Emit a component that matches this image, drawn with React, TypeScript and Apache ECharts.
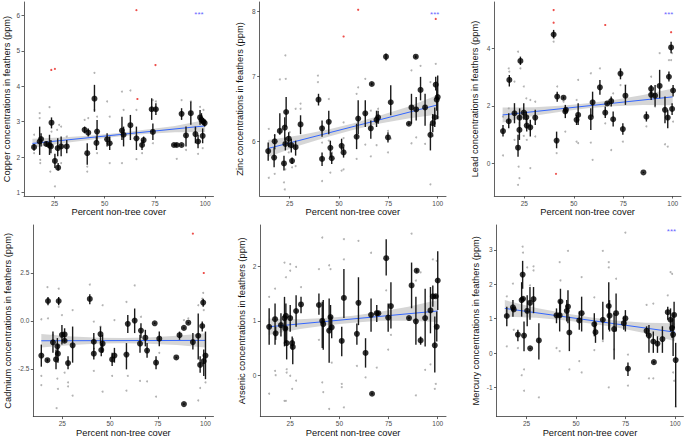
import React, { useEffect, useRef } from 'react';
import * as echarts from 'echarts';

const FONT = 'Liberation Sans, Arial, Helvetica, sans-serif';
const xTitle = 'Percent non-tree cover';
const xTicks = [25, 50, 75, 100];
const fitX = [14, 100];
const bandX = [14, 30, 45, 57, 70, 85, 100];

// ---------- Copper ----------
const copperMeans = [
  [14.8, 2.28, 2.18, 2.37], [17.6, 2.44, 2.06, 2.86], [18.3, 2.51, 2.30, 2.67], [20.9, 2.37, 2.30, 2.44],
  [22.5, 2.33, 2.06, 2.63], [23.2, 2.30, 2.11, 2.48], [23.5, 2.97, 2.81, 3.12], [25.2, 1.89, 1.69, 2.09],
  [26.6, 2.25, 2.02, 2.53], [26.8, 1.70, 1.62, 1.83], [28.3, 2.30, 2.02, 2.58], [31.1, 2.30, 2.11, 2.48],
  [40.0, 2.77, 2.67, 2.86], [41.8, 2.69, 2.58, 2.81], [41.3, 2.11, 1.78, 2.39], [44.9, 3.65, 3.28, 4.04],
  [45.9, 2.40, 2.20, 2.58], [46.2, 2.72, 2.44, 3.05], [51.2, 2.50, 2.30, 2.67], [52.5, 2.39, 2.20, 2.58],
  [58.6, 2.75, 2.48, 3.14], [59.4, 2.63, 2.30, 2.86], [62.8, 2.90, 2.48, 3.19], [65.8, 2.53, 2.20, 2.86],
  [68.6, 2.34, 2.20, 2.48], [69.4, 2.48, 2.39, 2.58], [73.4, 3.35, 3.05, 3.66], [74.0, 2.71, 2.48, 2.95],
  [75.5, 3.35, 3.19, 3.52], [84.5, 2.34, 2.32, 2.36], [85.9, 2.34, 2.30, 2.38], [88.3, 3.22, 3.05, 3.38],
  [88.3, 2.34, 2.32, 2.36], [90.5, 2.61, 2.30, 2.86], [92.9, 3.24, 2.91, 3.57], [95.2, 2.65, 2.39, 2.86],
  [96.5, 2.44, 2.25, 2.63], [97.5, 3.12, 2.91, 3.33], [98.2, 3.05, 2.95, 3.24], [98.8, 2.60, 2.39, 2.81],
  [99.2, 3.00, 2.91, 3.10], [99.8, 2.96, 2.86, 3.05],
];
const copperRaw = [
  [14.8, 2.63], [14.8, 2.11], [17.6, 3.24], [17.6, 3.10], [17.9, 1.92], [17.9, 1.83], [22.5, 3.41], [22.9, 1.59],
  [23.2, 2.91], [23.5, 2.72], [25.2, 1.17], [26.3, 2.77], [27.3, 2.91], [28.3, 2.86], [28.3, 1.83], [31.1, 2.58],
  [40.0, 3.05], [41.3, 1.59], [41.3, 1.73], [41.8, 3.10], [44.9, 4.38], [44.9, 3.33], [46.2, 3.14], [46.2, 2.11],
  [51.2, 3.57], [52.5, 3.14], [52.5, 1.83], [58.6, 3.85], [58.6, 1.83], [59.4, 3.33], [62.8, 3.88], [65.8, 1.94],
  [65.8, 3.33], [68.6, 2.11], [74.0, 3.61], [74.0, 2.39], [75.5, 3.57], [85.9, 1.95], [88.3, 3.61], [90.5, 2.20],
  [92.9, 3.57], [95.2, 2.81], [96.5, 2.09], [97.5, 3.42], [98.8, 2.25], [99.2, 3.33],
];
const copperRed = [[23.4, 4.46], [25.2, 4.49], [65.8, 6.15], [75.3, 4.60], [66.3, 3.64]];
const copperFit = [2.385, 2.88];
const copperBandLo = [2.26, 2.40, 2.505, 2.58, 2.65, 2.70, 2.71];
const copperBandHi = [2.52, 2.56, 2.615, 2.68, 2.77, 2.88, 3.05];
const copperYTicks = [1, 2, 3, 4, 5, 6];
const copperStar = [97, 6.04];

// ---------- Zinc ----------
const zincMeans = [
  [14.1, 5.85, 5.70, 5.98], [17.1, 5.75, 5.60, 5.91], [17.4, 6.00, 5.88, 6.11], [20.0, 6.16, 6.10, 6.43],
  [22.1, 5.66, 5.55, 5.78], [22.5, 6.21, 6.01, 6.37], [22.8, 5.96, 5.86, 6.06], [23.2, 6.45, 6.22, 6.68],
  [24.5, 6.04, 5.91, 6.14], [25.8, 5.94, 5.83, 6.04], [26.2, 5.70, 5.65, 5.75], [28.0, 5.91, 5.78, 6.01],
  [30.5, 6.26, 6.11, 6.40], [39.6, 6.64, 6.55, 6.73], [41.4, 6.20, 6.07, 6.32], [41.4, 5.73, 5.62, 5.83],
  [44.8, 6.30, 6.11, 6.47], [45.6, 5.90, 5.75, 6.01], [46.3, 5.74, 5.65, 5.83], [51.3, 5.93, 5.86, 6.04],
  [52.3, 5.83, 5.75, 5.91], [58.9, 6.07, 5.88, 6.27], [59.7, 6.35, 6.11, 6.63], [63.3, 6.43, 6.22, 6.63],
  [66.1, 6.20, 6.04, 6.32], [66.6, 6.88, 6.86, 6.90], [69.0, 6.33, 6.22, 6.47], [69.8, 6.37, 6.27, 6.47],
  [73.8, 7.30, 7.24, 7.35], [74.8, 6.06, 5.98, 6.14], [76.2, 6.60, 6.40, 6.86], [85.4, 6.27, 6.25, 6.29],
  [86.7, 6.52, 6.27, 6.73], [88.9, 7.30, 7.28, 7.32], [89.1, 6.49, 6.32, 6.68], [91.3, 6.79, 6.63, 6.99],
  [93.6, 6.52, 6.24, 6.73], [96.3, 6.10, 5.86, 6.27], [97.5, 6.28, 6.14, 6.42], [98.5, 6.37, 6.22, 6.52],
  [99.0, 6.87, 6.78, 6.99], [99.5, 6.64, 6.47, 6.83], [100.0, 6.68, 6.34, 7.01],
];
const zincRaw = [
  [14.4, 6.19], [14.4, 5.44], [17.4, 6.09], [17.4, 5.50], [17.4, 5.88], [20.0, 6.95], [22.1, 5.37], [22.5, 5.26],
  [22.8, 7.32], [23.0, 6.96], [22.8, 5.57], [24.5, 5.83], [25.0, 6.14], [26.2, 5.60], [28.0, 6.50], [28.0, 5.62],
  [30.5, 6.58], [30.5, 6.50], [39.3, 7.01], [39.3, 6.91], [41.4, 5.98], [41.4, 5.39], [44.8, 6.65], [44.8, 6.01],
  [45.6, 5.52], [46.3, 5.83], [51.3, 5.55], [52.3, 5.57], [52.3, 6.29], [52.3, 6.05], [58.9, 6.73], [58.9, 5.73],
  [59.7, 6.83], [63.3, 6.96], [63.3, 5.95], [66.1, 5.77], [66.1, 6.47], [69.0, 5.94], [69.8, 6.50], [74.8, 5.83],
  [74.8, 6.16], [76.2, 6.04], [86.7, 7.09], [86.7, 5.97], [89.1, 6.06], [91.3, 7.16], [93.6, 5.96], [96.3, 5.34],
  [96.3, 6.91], [97.5, 6.08], [99.0, 7.19], [99.5, 6.91], [100.3, 6.37],
];
const zincRed = [[52.3, 7.61], [59.7, 8.02], [99.0, 7.88]];
const zincFit = [5.89, 6.56];
const zincBandLo = [5.76, 5.935, 6.075, 6.175, 6.27, 6.35, 6.41];
const zincBandHi = [6.02, 6.095, 6.185, 6.275, 6.39, 6.53, 6.71];
const zincYTicks = [6, 7, 8];
const zincStar = [98.5, 7.95];

// ---------- Lead ----------
const leadMeans = [
  [14.2, 1.12, 0.93, 1.33], [17.1, 1.46, 1.22, 1.74], [17.4, 2.90, 2.67, 3.07], [20.0, 1.74, 1.39, 2.09],
  [21.8, 0.54, 0.23, 0.99], [22.5, 1.16, 0.81, 1.45], [22.6, 1.59, 1.22, 1.91], [23.0, 3.56, 3.42, 3.71],
  [24.7, 1.76, 1.51, 2.09], [26.0, 1.60, 1.39, 1.80], [26.2, 1.31, 1.10, 1.57], [28.0, 1.25, 0.93, 1.51],
  [30.5, 1.59, 1.33, 1.86], [39.8, 4.48, 4.35, 4.64], [41.3, 0.79, 0.52, 1.10], [41.6, 2.32, 2.14, 2.49],
  [44.8, 2.28, 2.24, 2.32], [45.7, 1.80, 1.57, 2.03], [46.0, 1.86, 1.80, 1.91], [51.4, 1.51, 1.33, 1.68],
  [52.2, 1.68, 1.33, 2.09], [58.6, 1.60, 1.16, 1.91], [59.5, 2.12, 1.62, 2.49], [63.2, 2.64, 2.38, 2.90],
  [65.9, 1.76, 1.57, 1.97], [66.9, 2.08, 2.04, 2.12], [68.9, 2.16, 1.97, 2.32], [69.9, 1.53, 1.28, 1.80],
  [73.6, 3.12, 2.92, 3.30], [74.8, 1.19, 0.99, 1.39], [76.1, 2.35, 2.03, 2.72], [85.2, -0.32, -0.34, -0.30],
  [86.7, 1.62, 1.45, 1.80], [89.1, 2.59, 2.43, 2.72], [89.1, 2.38, 2.20, 2.55], [91.1, 2.35, 1.97, 2.72],
  [93.4, 2.69, 2.26, 3.25], [96.1, 1.86, 1.39, 2.32], [97.5, 1.59, 1.22, 1.86], [98.1, 3.01, 2.84, 3.19],
  [99.2, 4.03, 3.83, 4.23], [99.7, 1.89, 1.68, 2.09], [100.2, 2.53, 2.32, 2.72],
];
const leadRaw = [
  [14.2, 0.27], [14.2, 1.62], [17.1, 3.30], [17.4, 3.19], [17.1, 1.91], [20.0, 2.84], [20.0, 0.81], [21.8, 3.88],
  [21.8, -0.75], [22.1, -0.12], [22.5, -0.52], [23.0, 3.30], [24.7, 2.67], [24.7, 0.95], [26.0, 2.26], [26.2, 0.81],
  [28.0, -0.17], [28.0, 2.20], [30.5, 2.14], [30.5, 0.93], [39.8, 4.35], [39.8, 4.23], [41.3, 0.35], [41.6, 2.67],
  [44.8, 2.14], [45.7, 1.10], [51.4, 2.20], [51.4, 0.75], [52.2, 0.70], [52.2, 2.90], [58.6, 3.13], [58.6, 0.72],
  [59.5, 0.12], [63.2, 3.30], [65.9, 1.39], [68.9, 0.46], [69.9, 2.43], [73.6, 2.72], [74.8, 0.75], [76.1, 2.72],
  [86.7, 1.28], [89.1, 3.01], [91.1, 1.97], [93.4, 3.83], [96.1, 0.66], [97.5, 0.58], [98.1, 3.59], [99.2, 3.59],
  [99.7, 3.83], [100.2, 1.45],
];
const leadRed = [[39.8, 5.33], [39.8, 4.89], [65.9, 4.81], [41.0, -0.37], [99.2, 4.56]];
const leadFit = [1.68, 2.31];
const leadBandLo = [1.42, 1.65, 1.81, 1.91, 1.98, 2.03, 2.02];
const leadBandHi = [1.94, 1.95, 2.01, 2.09, 2.20, 2.37, 2.60];
const leadYTicks = [0, 2, 4];
const leadStar = [98, 5.16];

// ---------- Cadmium ----------
const cadmiumMeans = [
  [14.0, -1.80, -2.38, -1.23], [17.2, -2.04, -2.11, -1.97], [17.5, 1.04, 0.82, 1.25], [20.1, -1.11, -1.66, -0.55],
  [21.7, -2.00, -2.52, -1.49], [22.4, -1.32, -1.75, -0.89], [22.7, -1.70, -2.17, -1.23], [23.1, 1.04, 0.82, 1.25],
  [24.8, -0.72, -1.23, -0.21], [26.2, -0.70, -1.06, -0.38], [26.2, -1.03, -1.11, -0.95], [28.0, -2.19, -2.52, -1.83],
  [30.4, -1.27, -2.17, -0.29], [39.4, 1.15, 0.87, 1.39], [41.5, -1.70, -2.00, -1.40], [41.5, -1.08, -1.49, -0.63],
  [45.0, -0.68, -1.15, -0.29], [45.4, -1.51, -1.83, -1.15], [46.1, -1.18, -1.66, -0.72], [51.1, -2.00, -2.35, -1.66],
  [52.3, -1.80, -2.17, -1.40], [58.6, -1.75, -2.52, -1.15], [59.3, -0.15, -0.63, 0.31], [62.9, 0.02, -0.63, 0.65],
  [65.7, -1.18, -1.66, -0.72], [66.2, -0.50, -0.89, -0.12], [68.5, -0.87, -1.32, -0.46], [69.4, -1.54, -1.92, -1.15],
  [73.4, -0.12, -0.16, -0.08], [74.1, -2.17, -2.52, -1.83], [75.8, -0.92, -1.32, -0.55], [84.7, -1.90, -1.94, -1.86],
  [86.4, -0.74, -0.98, -0.55], [88.7, -4.33, -4.37, -4.29], [88.7, -0.36, -0.40, -0.32], [91.0, -0.09, -0.13, -0.05],
  [93.4, -1.10, -1.49, -0.63], [96.2, -0.77, -2.00, 0.39], [97.2, -2.29, -2.69, -1.83], [98.3, -0.26, -0.55, -0.03],
  [98.8, 0.96, 0.74, 1.16], [99.1, -2.09, -2.86, -1.49], [100.0, -1.80, -3.03, -0.55],
];
const cadmiumRaw = [
  [14.0, 0.09], [14.0, -2.86], [14.0, -3.34], [17.2, 1.76], [17.5, 0.14], [20.1, -0.72], [21.7, -1.75], [22.0, -4.54],
  [22.4, -3.00], [22.7, -3.54], [23.1, 1.68], [23.1, 0.74], [24.8, 0.31], [26.2, -2.69], [28.0, -3.20], [28.0, -3.41],
  [30.4, 0.57], [30.4, -3.89], [39.4, 1.90], [41.5, -0.03], [41.5, -2.60], [45.0, -0.29], [46.1, -3.68], [46.1, 0.82],
  [51.1, -2.86], [52.3, 0.05], [58.6, 0.99], [58.6, -3.63], [59.3, -2.86], [62.9, 1.85], [65.7, -3.12], [66.2, 0.22],
  [69.4, -3.15], [74.1, -3.94], [75.8, -1.66], [88.7, 0.05], [91.0, 0.14], [96.2, -4.14], [96.2, 0.82], [97.2, -3.49],
  [98.3, 1.16], [98.8, 1.46], [99.1, 0.57], [100.0, -3.20],
];
const cadmiumRed = [[93.4, 4.55], [99.1, 2.50]];
const cadmiumFit = [-1.03, -1.01];
const cadmiumBandLo = [-1.38, -1.25, -1.17, -1.16, -1.18, -1.25, -1.38];
const cadmiumBandHi = [-0.68, -0.81, -0.87, -0.88, -0.86, -0.77, -0.64];
const cadmiumYTicks = [-2.5, 0, 2.5];

// ---------- Arsenic ----------
const arsenicMeans = [
  [14.3, 0.89, 0.56, 1.23], [17.3, 1.03, 0.56, 1.32], [17.6, 0.77, 0.65, 0.89], [20.3, 0.92, 0.71, 1.14],
  [22.1, 1.05, 0.53, 1.44], [22.5, 0.86, 0.59, 1.08], [22.8, 1.09, 0.83, 1.32], [23.2, 0.59, 0.29, 0.89],
  [25.0, 1.05, 0.80, 1.29], [26.0, 0.59, 0.47, 0.71], [26.3, 0.52, 0.20, 0.68], [28.0, 1.18, 0.89, 1.47],
  [30.5, 1.30, 1.14, 1.44], [39.6, 1.29, 1.11, 1.50], [41.3, 1.00, 0.50, 1.35], [41.8, 0.94, 0.47, 1.38],
  [44.8, 0.82, 0.23, 1.41], [45.5, 1.07, 0.83, 1.29], [46.1, 0.88, 0.68, 1.08], [51.2, 0.63, 0.35, 0.89],
  [52.3, 1.42, 1.05, 1.95], [58.9, 0.76, 0.56, 0.95], [59.7, 1.33, 0.92, 1.80], [63.3, 0.41, 0.14, 0.68],
  [66.1, 1.11, 0.80, 1.41], [66.6, -0.34, -0.36, -0.32], [69.0, 1.14, 0.98, 1.29], [69.8, 1.14, 1.11, 1.17],
  [73.8, 2.15, 1.83, 2.50], [74.8, 1.06, 0.80, 1.32], [76.2, 1.27, 0.86, 1.71], [85.4, 1.05, 1.03, 1.07],
  [86.7, 1.65, 1.23, 2.07], [88.9, 0.99, 0.56, 1.44], [89.3, 1.92, 1.89, 1.95], [91.3, 0.64, 0.56, 0.71],
  [93.6, 1.05, 0.53, 1.59], [96.3, 1.19, 0.77, 1.62], [97.5, 1.45, 1.26, 1.65], [98.5, 0.55, 0.05, 1.08],
  [99.0, 1.45, 1.42, 1.48], [99.5, 0.89, 0.62, 1.17], [100.0, 1.74, 1.20, 2.28],
];
const arsenicRaw = [
  [14.3, 1.44], [14.3, -0.34], [17.3, 0.08], [17.6, 0.00], [17.3, 1.59], [22.1, 2.07], [22.1, -0.47], [22.8, -0.47],
  [22.8, 1.80], [23.2, 0.11], [23.2, 0.05], [25.0, 2.04], [25.0, 1.92], [25.0, -0.01], [26.0, -0.25], [28.0, -0.10],
  [28.0, 1.99], [30.5, 1.62], [39.6, 1.95], [39.6, 0.65], [41.3, 2.53], [41.3, -0.13], [41.8, -0.31], [44.8, -0.62],
  [44.8, 2.02], [45.5, 1.95], [46.1, 0.23], [51.2, -0.16], [51.2, -0.22], [52.3, 2.50], [52.3, -0.59], [52.3, 2.13],
  [58.9, 0.17], [59.7, 2.47], [63.3, -0.04], [66.1, 2.25], [69.0, 0.14], [73.8, 1.56], [74.8, 0.47], [76.2, 0.74],
  [86.7, 2.60], [88.9, -0.37], [88.9, 1.74], [91.3, 1.89], [93.6, 0.10], [96.3, 0.20], [97.5, 2.13], [98.5, -0.25],
  [99.0, -0.16], [99.5, 2.10],
];
const arsenicFit = [0.89, 1.18];
const arsenicBandLo = [0.74, 0.85, 0.925, 0.965, 1.0, 1.0, 0.98];
const arsenicBandHi = [1.04, 1.03, 1.055, 1.095, 1.16, 1.26, 1.38];
const arsenicYTicks = [0, 1, 2];

// ---------- Mercury ----------
const mercuryMeans = [
  [15.0, 1.08, 0.78, 1.35], [18.1, 1.33, 1.06, 1.54], [18.5, 1.27, 1.24, 1.30], [20.6, 0.54, 0.35, 0.68],
  [22.5, 1.54, 1.06, 2.06], [23.0, 2.28, 1.87, 2.68], [23.2, 1.58, 1.54, 1.62], [23.7, 0.51, 0.06, 0.92],
  [25.3, 1.23, 0.78, 1.68], [26.7, 1.46, 0.97, 1.92], [26.8, 0.14, 0.12, 0.16], [28.5, 1.57, 1.16, 1.92],
  [31.2, 0.37, -0.18, 0.87], [40.1, 1.10, 0.87, 1.30], [41.7, 1.10, 0.63, 1.54], [42.1, 1.50, 1.06, 1.87],
  [45.3, 1.23, 0.92, 1.54], [45.9, 1.35, 0.87, 1.83], [46.6, 0.60, 0.06, 1.06], [51.6, 0.95, 0.68, 1.21],
  [52.8, 1.16, 0.63, 1.64], [59.2, 0.84, 0.49, 1.16], [59.8, 0.61, 0.30, 0.92], [63.5, 0.97, 0.39, 1.49],
  [66.5, 1.37, 0.68, 2.06], [66.9, 1.09, 0.63, 1.54], [69.2, 0.70, -0.18, 1.16], [70.2, 1.16, 0.63, 1.73],
  [74.1, 0.87, 0.68, 1.06], [74.9, 1.01, 0.63, 1.25], [76.2, -0.45, -0.66, -0.27], [85.6, 0.65, 0.49, 0.78],
  [86.8, 0.51, 0.01, 0.82], [89.0, 0.34, 0.01, 0.63], [89.3, -0.26, -0.29, -0.23], [91.1, 0.28, 0.01, 0.49],
  [93.6, 0.41, 0.01, 0.78], [96.3, 1.19, 0.97, 1.35], [97.7, 0.97, 0.63, 1.30], [98.5, 0.73, 0.44, 1.01],
  [99.0, 0.54, -0.08, 1.16], [99.5, 1.11, 0.73, 1.49], [100.3, -0.20, -1.56, 0.30],
];
const mercuryRaw = [
  [15.0, 0.20], [15.0, 1.65], [18.1, 2.02], [18.5, 0.68], [20.6, 0.15], [22.5, -0.64], [23.0, 3.09], [23.2, 2.92],
  [23.7, -0.47], [23.7, -1.09], [25.3, 2.49], [26.7, 1.97], [28.5, 2.52], [28.5, 2.40], [31.2, -1.28], [40.1, 0.15],
  [41.7, 2.64], [41.7, 0.06], [42.1, 2.11], [45.9, 2.97], [46.6, -0.47], [51.6, -0.23], [52.8, 2.21], [52.8, -0.56],
  [59.2, 1.62], [59.2, 0.09], [63.5, 2.97], [63.5, 0.35], [66.5, 2.64], [66.5, 2.49], [66.5, -0.99], [69.2, 0.11],
  [70.2, 2.16], [74.9, 3.50], [76.2, -0.04], [76.2, -0.94], [85.6, 1.40], [86.8, -0.73], [89.0, -0.73], [89.0, 1.44],
  [96.3, 1.68], [97.7, 2.35], [98.5, 2.30], [99.0, -0.56], [99.5, -0.80], [100.3, -1.56],
];
const mercuryFit = [1.30, 0.61];
const mercuryBandLo = [1.06, 1.03, 0.95, 0.865, 0.75, 0.58, 0.35];
const mercuryBandHi = [1.54, 1.31, 1.15, 1.045, 0.95, 0.88, 0.87];
const mercuryYTicks = [-1, 0, 1, 2, 3];
const mercuryStar = [98.2, 3.53];

const panels = [
  { title: 'Copper concentrations in feathers (ppm)', means: copperMeans, raw: copperRaw, red: copperRed, fit: copperFit, lo: copperBandLo, hi: copperBandHi, ticks: copperYTicks, star: copperStar },
  { title: 'Zinc concentrations in feathers (ppm)', means: zincMeans, raw: zincRaw, red: zincRed, fit: zincFit, lo: zincBandLo, hi: zincBandHi, ticks: zincYTicks, star: zincStar },
  { title: 'Lead concentrations in feathers (ppm)', means: leadMeans, raw: leadRaw, red: leadRed, fit: leadFit, lo: leadBandLo, hi: leadBandHi, ticks: leadYTicks, star: leadStar },
  { title: 'Cadmium concentrations in feathers (ppm)', means: cadmiumMeans, raw: cadmiumRaw, red: cadmiumRed, fit: cadmiumFit, lo: cadmiumBandLo, hi: cadmiumBandHi, ticks: cadmiumYTicks, star: null, decimals: 1 },
  { title: 'Arsenic concentrations in feathers (ppm)', means: arsenicMeans, raw: arsenicRaw, red: [], fit: arsenicFit, lo: arsenicBandLo, hi: arsenicBandHi, ticks: arsenicYTicks, star: null },
  { title: 'Mercury concentrations in feathers (ppm)', means: mercuryMeans, raw: mercuryRaw, red: [], fit: mercuryFit, lo: mercuryBandLo, hi: mercuryBandHi, ticks: mercuryYTicks, star: mercuryStar },
];

// layout: [left, top, right, bottom] px, y-range, y-title gap
const layout = [
  { box: [24, 2, 213.5, 196], yMin: 0.9, yMax: 6.38, gap: 12.3 },
  { box: [259.7, 2, 446, 196], yMin: 5.16, yMax: 8.14, gap: 15.3 },
  { box: [494.3, 2, 681, 196], yMin: -1.14, yMax: 5.61, gap: 14.6 },
  { box: [33.3, 225, 213.5, 419.3], yMin: -4.98, yMax: 5.0, gap: 21.3 },
  { box: [260.3, 225, 446, 419.3], yMin: -0.76, yMax: 2.76, gap: 14.3 },
  { box: [496.5, 225, 683.4, 419.3], yMin: -1.84, yMax: 3.72, gap: 16.1 },
];

function buildOption() {
  const grid: any[] = [];
  const xAxis: any[] = [];
  const yAxis: any[] = [];
  const series: any[] = [];
  const axisCol = '#3a3a3a';
  panels.forEach((p, i) => {
    const L = layout[i];
    grid.push({ left: L.box[0], top: L.box[1], width: L.box[2] - L.box[0], height: L.box[3] - L.box[1] });
    xAxis.push({
      type: 'value', gridIndex: i, min: 9.8, max: 104.2,
      name: xTitle, nameLocation: 'middle', nameGap: 10,
      nameTextStyle: { fontSize: 9.3, color: '#111', fontFamily: FONT },
      axisLine: { show: true, onZero: false, lineStyle: { color: axisCol, width: 0.8 } },
      axisTick: { show: true, length: 2.5, customValues: xTicks, lineStyle: { color: axisCol, width: 0.8 } },
      axisLabel: { customValues: xTicks, fontSize: 6.5, color: '#4d4d4d', margin: 3.5, fontFamily: FONT },
      splitLine: { show: false },
    });
    yAxis.push({
      type: 'value', gridIndex: i, min: L.yMin, max: L.yMax,
      name: p.title, nameLocation: 'middle', nameGap: L.gap, nameRotate: 90,
      nameTextStyle: { fontSize: 9.3, color: '#111', fontFamily: FONT },
      axisLine: { show: true, onZero: false, lineStyle: { color: axisCol, width: 0.8 } },
      axisTick: { show: true, length: 2.5, customValues: p.ticks, lineStyle: { color: axisCol, width: 0.8 } },
      axisLabel: {
        customValues: p.ticks, fontSize: 6.5, color: '#4d4d4d', margin: 4, fontFamily: FONT,
        formatter: (v: number) => (p.decimals ? v.toFixed(p.decimals) : String(v)),
      },
      splitLine: { show: false },
    });
    // raw points
    series.push({
      type: 'scatter', xAxisIndex: i, yAxisIndex: i, data: p.raw, symbolSize: 2, silent: true,
      itemStyle: { color: '#9a9a9a', opacity: 0.75 }, z: 1,
    });
    // confidence band
    series.push({
      type: 'custom', xAxisIndex: i, yAxisIndex: i, silent: true, z: 2,
      data: [[bandX[0], p.lo[0]]],
      renderItem: (_params: any, api: any) => {
        const upper = bandX.map((x, j) => api.coord([x, p.hi[j]]));
        const lower = bandX.map((x, j) => api.coord([x, p.lo[j]])).reverse();
        return { type: 'polygon', shape: { points: upper.concat(lower) }, style: { fill: 'rgba(153,153,153,0.4)' } };
      },
    });
    // regression line
    series.push({
      type: 'line', xAxisIndex: i, yAxisIndex: i, data: fitX.map((x, j) => [x, p.fit[j]]),
      symbol: 'none', silent: true, lineStyle: { color: '#3366FF', width: 1 }, z: 3,
    });
    // error bars
    series.push({
      type: 'custom', xAxisIndex: i, yAxisIndex: i, silent: true, z: 4,
      data: p.means.map((m) => [m[0], m[2], m[3]]),
      encode: { x: 0, y: [1, 2] },
      renderItem: (_params: any, api: any) => {
        const a = api.coord([api.value(0), api.value(1)]);
        const b = api.coord([api.value(0), api.value(2)]);
        return { type: 'line', shape: { x1: a[0], y1: a[1], x2: b[0], y2: b[1] }, style: { stroke: '#1a1a1a', lineWidth: 1.4 } };
      },
    });
    // means
    series.push({
      type: 'scatter', xAxisIndex: i, yAxisIndex: i, data: p.means.map((m) => [m[0], m[1]]),
      symbolSize: 6, silent: true, itemStyle: { color: '#000' }, z: 5,
    });
    // outliers
    if (p.red.length) {
      series.push({
        type: 'scatter', xAxisIndex: i, yAxisIndex: i, data: p.red, symbolSize: 2.2, silent: true,
        itemStyle: { color: '#e8231e' }, z: 6,
      });
    }
    if (p.star) {
      series.push({
        type: 'scatter', xAxisIndex: i, yAxisIndex: i, data: [p.star], symbolSize: 1, silent: true,
        itemStyle: { color: 'rgba(0,0,0,0)' }, z: 7,
        label: { show: true, formatter: '***', position: 'inside', color: '#3b3bff', fontSize: 8, fontFamily: FONT },
      });
    }
  });
  return { animation: false, backgroundColor: '#ffffff', grid, xAxis, yAxis, series };
}

export default function App() {
  const ref = useRef<HTMLDivElement>(null);
  useEffect(() => {
    if (!ref.current) return;
    const chart = echarts.init(ref.current, undefined, { renderer: 'svg' });
    chart.setOption(buildOption());
    return () => chart.dispose();
  }, []);
  return (
    <div
      ref={ref}
      style={{ position: 'fixed', left: 0, top: 0, width: 685, height: 438, background: '#fff' }}
    />
  );
}
